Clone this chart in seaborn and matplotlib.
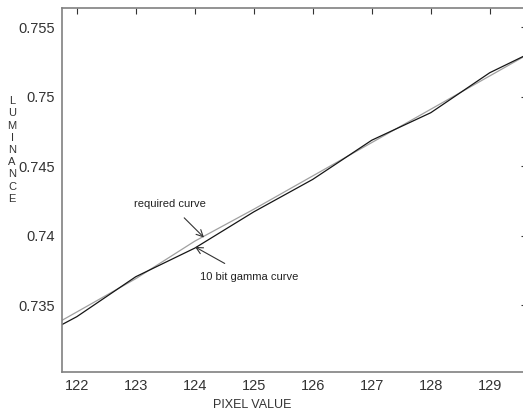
import matplotlib
matplotlib.use("Agg")
import matplotlib.pyplot as plt
import seaborn as sns
import pandas as pd

# data
pixel_values = [121, 122, 123, 124, 125, 126, 127, 128, 129, 130]
required_curve = [0.7321, 0.7345, 0.7369, 0.7396, 0.7419, 0.7443, 0.7467, 0.7491, 0.7515, 0.7539]
gamma10_curve = [0.7319, 0.73416, 0.73704, 0.73910, 0.74171, 0.74405, 0.74687, 0.74885, 0.75173, 0.7538]
x_ticks = [122, 123, 124, 125, 126, 127, 128, 129]
y_ticks = [0.735, 0.74, 0.745, 0.75, 0.755]
y_tick_labels = ["0.735", "0.74", "0.745", "0.75", "0.755"]

sns.set_style("white")
plt.rcParams['font.family'] = ['Liberation Sans', 'DejaVu Sans']

df = pd.DataFrame({
    "pixel": pixel_values * 2,
    "lum": required_curve + gamma10_curve,
    "curve": ["required"] * len(pixel_values) + ["gamma10"] * len(pixel_values),
})

fig = plt.figure(figsize=(5.23, 4.13), dpi=100)
W, H = 523, 413
ax = fig.add_axes([62 / W, (H - 372) / H, (527 - 62) / W, (372 - 8) / H])

sns.lineplot(data=df, x="pixel", y="lum", hue="curve",
             palette={"required": "#a0a0a0", "gamma10": "#151515"},
             linewidth=0.9, legend=False, ax=ax, sort=False)

ax.set_xlim(121.75, 129.631)
ax.set_ylim(0.73018, 0.75639)
ax.set_xticks(x_ticks)
ax.set_xticklabels([str(v) for v in x_ticks])
ax.set_yticks(y_ticks)
ax.set_yticklabels(y_tick_labels)
ax.tick_params(direction="in", length=4, width=0.8, color="#333333",
               labelsize=10.5, labelcolor="#333333", top=True, right=True,
               pad=5)
for s in ax.spines.values():
    s.set_color("#808080")
    s.set_linewidth(1.2)
    s.set_visible(True)

ax.set_xlabel("")
ax.set_ylabel("")
fig.text(252 / W, 1 - 405 / H, "PIXEL VALUE", ha="center", va="center",
         fontsize=9, color="#333333")
fig.text(12 / W, 1 - 150 / H, "\n".join("LUMINANCE"), ha="center", va="center",
         fontsize=8, color="#333333", linespacing=1.28)

ax.annotate("required curve", xy=(124.157, 0.73986), xytext=(123.58, 0.7423),
            ha="center", va="center", fontsize=8, color="#222222",
            arrowprops=dict(arrowstyle="->", color="#333333", lw=0.8,
                            shrinkA=6, shrinkB=0, mutation_scale=12))
ax.annotate("10 bit gamma curve", xy=(124.004, 0.73919), xytext=(124.09, 0.73701),
            ha="left", va="center", fontsize=8, color="#222222",
            arrowprops=dict(arrowstyle="->", color="#333333", lw=0.8,
                            shrinkA=8, shrinkB=0, mutation_scale=12))

fig.savefig("out.png", dpi=100)
